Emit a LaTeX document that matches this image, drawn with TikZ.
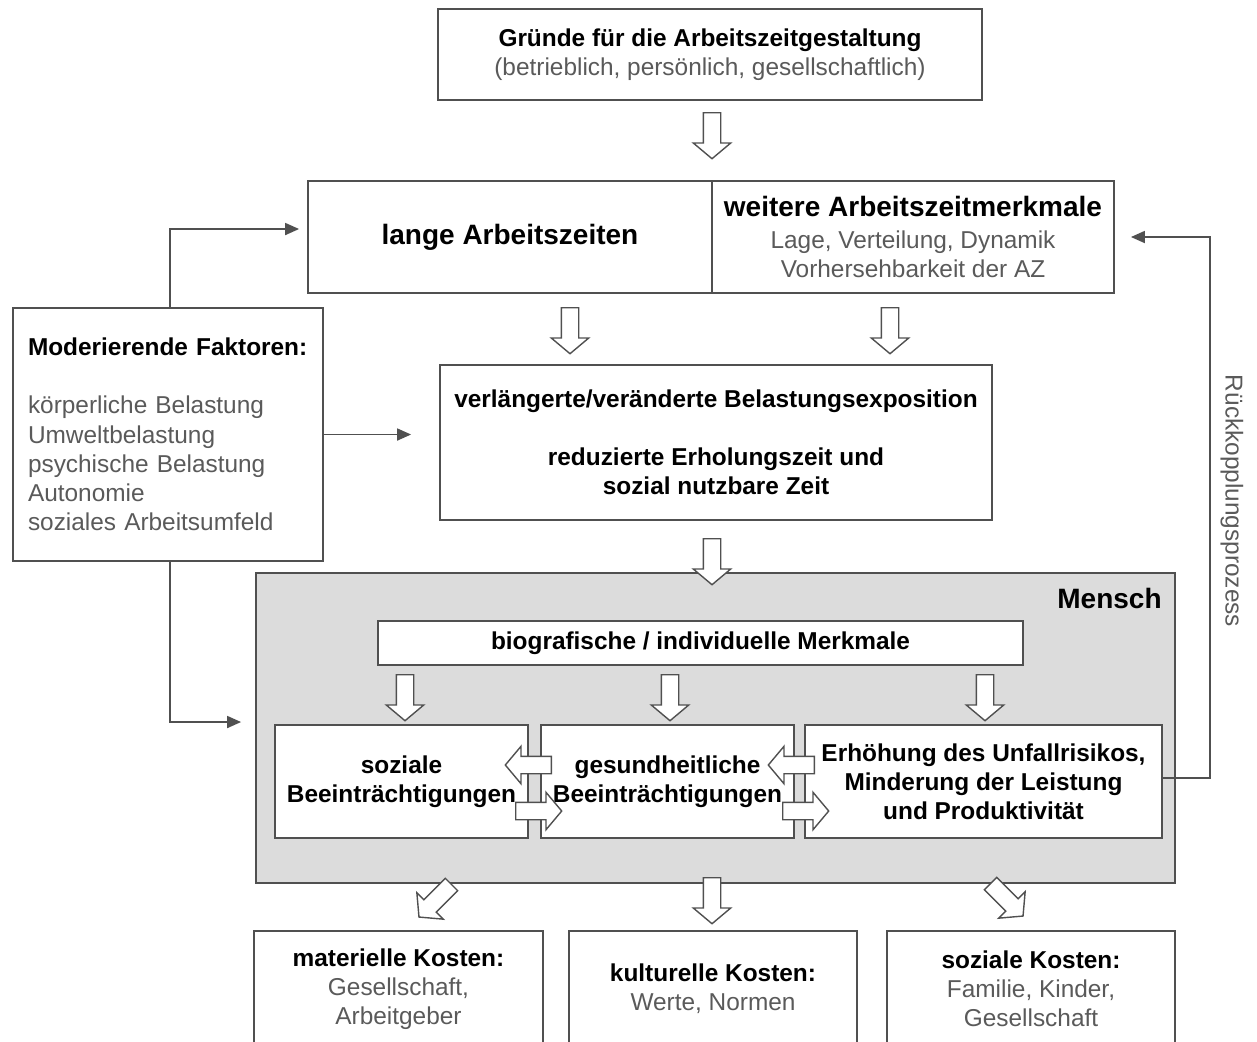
\documentclass[tikz,border=0pt]{standalone}
\usepackage{fontspec}
\setmainfont{Liberation Sans}
\usetikzlibrary{arrows.meta,shapes.arrows,calc}
\definecolor{rahmen}{HTML}{505050}
\definecolor{textgrau}{HTML}{5A5A5A}
\definecolor{menschgrau}{HTML}{DCDCDC}
\tikzset{
    kasten/.style={
        draw=rahmen,
        line width=0.9pt,
        fill=white,
        align=center,
        inner sep=0pt,
        font={\fontsize{12.2}{14.5}\selectfont}
    },
    fettkasten/.style={
        kasten,
        font={\fontsize{12.2}{14.5}\selectfont\bfseries}
    },
    blockpfeil/.style={
        single arrow,
        draw=rahmen,
        fill=white,
        line width=0.7pt,
        minimum height=23pt,
        minimum width=18pt,
        inner xsep=0pt,
        inner ysep=4pt,
        single arrow head extend=5pt,
        single arrow tip angle=100,
        anchor=tail
    },
    verbindung/.style={draw=rahmen, line width=0.9pt, -{Triangle[length=7pt,width=6pt]}},
}

\begin{document}
\begin{tikzpicture}[x=0.5pt,y=-0.5pt]
\useasboundingbox (0,0) rectangle (1257,1041);

% obere Reihe
\node[kasten, minimum width=272pt, minimum height=45.5pt] (gruende) at (710,54.5)
    {\textbf{Gründe für die Arbeitszeitgestaltung}\\
     \textcolor{textgrau}{(betrieblich, persönlich, gesellschaftlich)}};
\node[kasten, minimum width=202pt, minimum height=56pt, font={\fontsize{14}{17}\selectfont\bfseries}] (lange) at (510,237)
    {lange Arbeitszeiten};
\node[kasten, minimum width=201pt, minimum height=56pt] (weitere) at (913,237)
    {{\fontsize{14}{17}\selectfont\textbf{weitere Arbeitszeitmerkmale}}\\[1.5pt]
     \textcolor{textgrau}{Lage, Verteilung, Dynamik}\\
     \textcolor{textgrau}{Vorhersehbarkeit der AZ}};
\node[fettkasten, minimum width=276pt, minimum height=77.5pt] (belast) at (716,442.5)
    {verlängerte/veränderte Belastungsexposition\\[14.5pt]
     reduzierte Erholungszeit und\\
     sozial nutzbare Zeit};
\node[kasten, minimum width=155pt, minimum height=126.5pt, text width=140pt, align=left,
      text=textgrau, font={\fontsize{12.2}{14.6}\selectfont}] (moder) at (168,434.5)
    {\textcolor{black}{\textbf{Moderierende Faktoren:}}\\[14.5pt]
     körperliche Belastung\\
     Umweltbelastung\\
     psychische Belastung\\
     Autonomie\\
     soziales Arbeitsumfeld};

% Mensch
\node[kasten, fill=menschgrau, minimum width=459.5pt, minimum height=155pt] (mensch) at (715.5,728) {};
\node[anchor=east, inner sep=0pt, font={\fontsize{14}{17}\selectfont\bfseries}] (menschtitel) at (1162,598) {Mensch};
\node[fettkasten, minimum width=322.5pt, minimum height=22pt] (bio) at (700.5,643)
    {biografische / individuelle Merkmale};
\node[fettkasten, minimum width=126.5pt, minimum height=56.5pt] (sozB) at (401.5,781.5)
    {soziale\\Beeinträchtigungen};
\node[fettkasten, minimum width=126.5pt, minimum height=56.5pt] (gesB) at (667.5,781.5)
    {gesundheitliche\\Beeinträchtigungen};
\node[fettkasten, minimum width=178.5pt, minimum height=56.5pt] (unfall) at (983.5,781.5)
    {Erhöhung des Unfallrisikos,\\
     Minderung der Leistung\\
     und Produktivität};

% Kosten
\node[kasten, minimum width=144.5pt, minimum height=58pt] (matK) at (398.5,989)
    {\textbf{materielle Kosten:}\\
     \textcolor{textgrau}{Gesellschaft,}\\
     \textcolor{textgrau}{Arbeitgeber}};
\node[kasten, minimum width=144pt, minimum height=58pt] (kultK) at (713,989)
    {\textbf{kulturelle Kosten:}\\
     \textcolor{textgrau}{Werte, Normen}};
\node[kasten, minimum width=144pt, minimum height=58pt] (sozK) at (1031,989)
    {\textbf{soziale Kosten:}\\
     \textcolor{textgrau}{Familie, Kinder,}\\
     \textcolor{textgrau}{Gesellschaft}};

% Blockpfeile
\node[blockpfeil, rotate=-90] (pf0) at (712,112) {};
\node[blockpfeil, rotate=-90] (pf1) at (570,307) {};
\node[blockpfeil, rotate=-90] (pf2) at (890,307) {};
\node[blockpfeil, rotate=-90] (pf3) at (712,538) {};
\node[blockpfeil, rotate=-90] (pf4) at (405,674) {};
\node[blockpfeil, rotate=-90] (pf5) at (670,674) {};
\node[blockpfeil, rotate=-90] (pf6) at (985,674) {};
\node[blockpfeil, rotate=180] (pf7) at (552,765) {};
\node[blockpfeil] (pf8) at (515,811) {};
\node[blockpfeil, rotate=180] (pf9) at (815,765) {};
\node[blockpfeil] (pf10) at (782,811) {};
\node[blockpfeil, rotate=-135] (pf11) at (452,884) {};
\node[blockpfeil, rotate=-90] (pf12) at (712,877) {};
\node[blockpfeil, rotate=-45] (pf13) at (990,883) {};

% Verbindungen
\draw[verbindung, shorten >=4pt] ([xshift=1pt]moder.north) |- ([yshift=4pt]lange.west);
\draw[verbindung, shorten >=14pt] (moder.east) -- (moder.east -| belast.west);
\draw[verbindung, shorten >=7pt] ([xshift=1pt]moder.south) |- ([yshift=3pt]mensch.west);

% Rueckkopplung
\coordinate (rueckpunkt) at (1210,778);
\draw[verbindung, shorten >=8pt] (unfall.east |- rueckpunkt) -- (rueckpunkt) |- (weitere.east);
\node[rotate=-90, text=textgrau, inner sep=0pt, font={\fontsize{12.2}{14.5}\selectfont}] (rueck) at (1232,501)
    {Rückkopplungsprozess};
\end{tikzpicture}
\end{document}
